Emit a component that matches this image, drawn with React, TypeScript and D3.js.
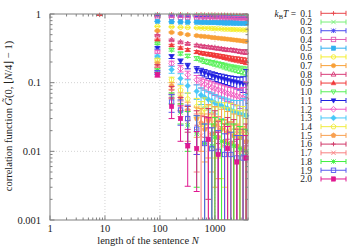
import React from 'react'
import * as d3 from 'd3'

// sentence lengths N (x) shared by all temperature series
const sentenceN = [8, 90, 163, 237, 320, 466, 560, 650, 760, 880, 1000, 1150, 1320, 1500, 1700, 1950, 2200, 2500, 2850, 3250, 3700]

const temps = ['0.1', '0.2', '0.3', '0.4', '0.5', '0.6', '0.7', '0.8', '0.9', '1.0', '1.1', '1.2', '1.3', '1.4', '1.5', '1.6', '1.7', '1.8', '1.9', '2.0']

// null = no point (estimate not positive, so absent on the log axis)
const g01 = [0.97, 0.99, 0.99, 0.99, 0.985, 0.985, 0.985, 0.98, 0.98, 0.98, 0.98, 0.975, 0.975, 0.975, 0.97, 0.97, 0.97, 0.965, 0.965, 0.96, 0.96]
const e01 = [0.02, 0.002, 0.002, 0.002, 0.002, 0.002, 0.002, 0.002, 0.002, 0.002, 0.002, 0.002, 0.003, 0.003, 0.003, 0.003, 0.003, 0.003, 0.004, 0.004, 0.005]
const g02 = [null, 0.975, 0.97, 0.97, 0.965, 0.96, 0.96, 0.955, 0.955, 0.95, 0.95, 0.945, 0.945, 0.94, 0.94, 0.935, 0.935, 0.93, 0.93, 0.925, 0.925]
const e02 = [null, 0.003, 0.003, 0.003, 0.003, 0.003, 0.003, 0.003, 0.003, 0.003, 0.003, 0.004, 0.004, 0.004, 0.004, 0.004, 0.004, 0.005, 0.005, 0.006, 0.007]
const g03 = [null, 0.95, 0.94, 0.935, 0.93, 0.925, 0.92, 0.915, 0.915, 0.91, 0.905, 0.905, 0.9, 0.9, 0.895, 0.895, 0.89, 0.89, 0.885, 0.885, 0.88]
const e03 = [null, 0.004, 0.004, 0.004, 0.004, 0.004, 0.004, 0.004, 0.005, 0.005, 0.005, 0.005, 0.005, 0.005, 0.005, 0.006, 0.006, 0.006, 0.007, 0.008, 0.009]
const g04 = [null, 0.91, 0.9, 0.895, 0.89, 0.885, 0.88, 0.88, 0.875, 0.875, 0.87, 0.87, 0.865, 0.865, 0.86, 0.86, 0.855, 0.855, 0.85, 0.85, 0.845]
const e04 = [null, 0.005, 0.005, 0.005, 0.006, 0.006, 0.006, 0.006, 0.006, 0.006, 0.007, 0.007, 0.007, 0.007, 0.007, 0.008, 0.008, 0.008, 0.009, 0.01, 0.012]
const g05 = [null, 0.78, 0.77, 0.765, 0.76, 0.76, 0.755, 0.755, 0.75, 0.75, 0.75, 0.745, 0.745, 0.74, 0.74, 0.74, 0.735, 0.735, 0.73, 0.73, 0.73]
const e05 = [null, 0.006, 0.007, 0.007, 0.007, 0.008, 0.008, 0.008, 0.008, 0.008, 0.008, 0.009, 0.009, 0.009, 0.009, 0.01, 0.01, 0.01, 0.011, 0.012, 0.014]
const g06 = [null, 0.66, 0.65, 0.64, 0.635, 0.63, 0.625, 0.62, 0.62, 0.615, 0.61, 0.61, 0.605, 0.6, 0.6, 0.595, 0.595, 0.59, 0.59, 0.585, 0.585]
const e06 = [null, 0.008, 0.009, 0.009, 0.009, 0.01, 0.01, 0.01, 0.01, 0.01, 0.011, 0.011, 0.011, 0.011, 0.012, 0.012, 0.012, 0.013, 0.013, 0.015, 0.018]
const g07 = [null, 0.57, 0.54, 0.52, 0.5, 0.485, 0.475, 0.47, 0.465, 0.455, 0.45, 0.445, 0.44, 0.435, 0.43, 0.425, 0.42, 0.415, 0.41, 0.405, 0.4]
const e07 = [null, 0.009, 0.01, 0.011, 0.011, 0.011, 0.012, 0.012, 0.012, 0.012, 0.012, 0.013, 0.013, 0.013, 0.013, 0.014, 0.014, 0.015, 0.015, 0.017, 0.02]
const g08 = [null, 0.49, 0.42, 0.39, 0.37, 0.35, 0.34, 0.335, 0.33, 0.325, 0.32, 0.315, 0.31, 0.305, 0.3, 0.3, 0.295, 0.29, 0.285, 0.28, 0.28]
const e08 = [null, 0.01, 0.011, 0.012, 0.012, 0.012, 0.013, 0.013, 0.013, 0.013, 0.013, 0.014, 0.014, 0.014, 0.014, 0.015, 0.015, 0.016, 0.017, 0.018, 0.022]
const g09 = [null, 0.42, 0.35, 0.32, 0.3, 0.28, 0.27, 0.265, 0.26, 0.255, 0.25, 0.245, 0.24, 0.235, 0.23, 0.225, 0.22, 0.218, 0.214, 0.21, 0.205]
const e09 = [null, 0.01, 0.012, 0.012, 0.013, 0.013, 0.014, 0.014, 0.015, 0.015, 0.015, 0.016, 0.016, 0.017, 0.017, 0.018, 0.018, 0.019, 0.02, 0.02, 0.022]
const g10 = [null, 0.37, 0.3, 0.265, 0.245, 0.225, 0.215, 0.205, 0.2, 0.195, 0.19, 0.185, 0.18, 0.175, 0.17, 0.165, 0.162, 0.158, 0.155, 0.15, 0.147]
const e10 = [null, 0.01, 0.012, 0.013, 0.013, 0.014, 0.014, 0.015, 0.015, 0.015, 0.016, 0.016, 0.016, 0.017, 0.017, 0.017, 0.018, 0.018, 0.019, 0.02, 0.022]
const g11 = [null, 0.32, 0.24, 0.205, 0.175, 0.155, 0.145, 0.138, 0.132, 0.127, 0.122, 0.118, 0.115, 0.112, 0.109, 0.106, 0.104, 0.101, 0.099, 0.097, 0.095]
const e11 = [null, 0.012, 0.015, 0.016, 0.016, 0.016, 0.017, 0.017, 0.017, 0.017, 0.018, 0.018, 0.018, 0.018, 0.018, 0.019, 0.019, 0.02, 0.021, 0.025, 0.06]
const g12 = [null, 0.28, 0.19, 0.16, 0.13, 0.11, 0.1, 0.095, 0.09, 0.086, 0.082, 0.079, 0.076, 0.073, 0.07, 0.068, 0.066, 0.064, 0.062, 0.06, 0.058]
const e12 = [null, 0.012, 0.016, 0.017, 0.017, 0.017, 0.017, 0.017, 0.017, 0.017, 0.017, 0.017, 0.017, 0.017, 0.017, 0.017, 0.018, 0.018, 0.02, 0.025, 0.045]
const g13 = [null, 0.24, 0.155, 0.115, 0.09, 0.075, 0.066, 0.061, 0.057, 0.054, 0.051, 0.048, 0.046, 0.044, 0.042, 0.04, 0.038, 0.037, 0.035, 0.034, 0.033]
const e13 = [null, 0.012, 0.018, 0.02, 0.02, 0.018, 0.018, 0.017, 0.017, 0.017, 0.016, 0.016, 0.016, 0.016, 0.016, 0.016, 0.017, 0.018, 0.02, 0.025, 0.034]
const g14 = [null, 0.215, 0.11, 0.078, 0.058, 0.045, 0.038, 0.042, 0.03, 0.034, 0.026, 0.03, 0.024, 0.027, 0.022, 0.025, 0.02, 0.023, 0.019, 0.021, 0.018]
const e14 = [null, 0.008, 0.01, 0.012, 0.013, 0.014, 0.015, 0.018, 0.016, 0.02, 0.018, 0.022, 0.02, 0.024, 0.021, 0.025, 0.02, 0.024, 0.02, 0.024, 0.022]
const g15 = [null, 0.19, 0.09, 0.06, 0.04, 0.03, 0.026, 0.021, 0.028, 0.018, 0.024, 0.016, 0.021, 0.014, 0.019, 0.013, 0.017, 0.012, 0.016, 0.011, 0.014]
const e15 = [null, 0.008, 0.01, 0.011, 0.012, 0.014, 0.016, 0.014, 0.02, 0.013, 0.021, 0.012, 0.02, 0.015, 0.019, 0.014, 0.018, 0.013, 0.017, 0.012, 0.016]
const g16 = [null, 0.175, 0.078, 0.05, 0.032, 0.024, null, 0.016, 0.022, null, 0.019, 0.013, null, 0.012, 0.015, null, 0.014, 0.01, null, 0.01, 0.012]
const e16 = [null, 0.008, 0.01, 0.011, 0.013, 0.015, null, 0.016, 0.02, null, 0.02, 0.014, null, 0.013, 0.016, null, 0.015, 0.011, null, 0.011, 0.013]
const g17 = [null, 0.16, 0.068, 0.043, 0.027, 0.02, 0.017, null, 0.015, 0.018, null, 0.016, 0.012, null, 0.011, 0.013, null, 0.012, 0.009, null, 0.009]
const e17 = [null, 0.008, 0.01, 0.011, 0.013, 0.015, 0.016, null, 0.015, 0.017, null, 0.016, 0.011, null, 0.012, 0.013, null, 0.012, 0.01, null, 0.01]
const g18 = [null, 0.15, 0.06, 0.037, 0.024, 0.018, null, 0.013, null, 0.012, 0.016, null, 0.014, null, 0.013, null, 0.012, null, 0.011, null, 0.01]
const e18 = [null, 0.009, 0.011, 0.012, 0.014, 0.015, null, 0.012, null, 0.013, 0.015, null, 0.015, null, 0.012, null, 0.013, null, 0.012, null, 0.011]
const g19 = [null, 0.14, 0.052, 0.04, 0.03, 0.021, null, 0.013, null, 0.011, null, 0.01, null, 0.009, null, 0.009, null, 0.008, null, 0.008, null]
const e19 = [null, 0.009, 0.015, 0.016, 0.017, 0.012, null, 0.012, null, 0.011, null, 0.01, null, 0.009, null, 0.01, null, 0.009, null, 0.009, null]
const g20 = [null, 0.13, 0.045, 0.03, 0.012, 0.011, null, null, 0.015, null, null, 0.009, null, null, 0.011, null, null, 0.007, null, null, 0.008]
const e20 = [null, 0.009, 0.015, 0.016, 0.0089, 0.0084, null, null, 0.016, null, null, 0.01, null, null, 0.012, null, null, 0.008, null, null, 0.009]

const colors = ['#e8464b', '#78f078', '#4848f0', '#e05ab0', '#30b0f0', '#f4ee30', '#f8a038', '#d83c78', '#f03838', '#58f058',
  '#2020e0', '#f058c0', '#48c8f8', '#f0ec40', '#f8a050', '#d03868', '#f88080', '#40f040', '#5858f0', '#e01890']
// gnuplot point types, cycling after 15
const pointTypes = [1, 2, 3, 4, 5, 6, 7, 8, 9, 10, 11, 12, 13, 14, 15, 1, 2, 3, 4, 5]

const xTickLabels = ['1', '10', '100', '1000']
const yTickLabels = ['0.001', '0.01', '0.1', '1']

const gs = [g01, g02, g03, g04, g05, g06, g07, g08, g09, g10, g11, g12, g13, g14, g15, g16, g17, g18, g19, g20]
const es = [e01, e02, e03, e04, e05, e06, e07, e08, e09, e10, e11, e12, e13, e14, e15, e16, e17, e18, e19, e20]

const left = 50, right = 248, top = 14, bottom = 220
const font = '"Liberation Serif", serif'

const Marker = ({pt, x, y, color}) => {
  const r = 2.2
  const open = {fill: 'none', stroke: color, strokeWidth: 0.9}
  const full = {fill: color, stroke: color, strokeWidth: 0.5}
  const poly = (pts) => 'M' + pts.map(p => `${x + p[0]},${y + p[1]}`).join('L') + 'Z'
  const tri = [[0, -r * 1.2], [r * 1.1, r * 0.8], [-r * 1.1, r * 0.8]]
  const itri = tri.map(p => [p[0], -p[1]])
  const dia = [[0, -r * 1.3], [r * 1.3, 0], [0, r * 1.3], [-r * 1.3, 0]]
  const pent = d3.range(5).map(k => {
    const a = -Math.PI / 2 + k * 2 * Math.PI / 5
    return [Math.cos(a) * r * 1.2, Math.sin(a) * r * 1.2]
  })
  const plus = `M${x - r},${y}H${x + r}M${x},${y - r}V${y + r}`
  const cross = `M${x - r},${y - r}L${x + r},${y + r}M${x - r},${y + r}L${x + r},${y - r}`
  switch (pt) {
    case 1: return <path d={plus} {...open} />
    case 2: return <path d={cross} {...open} />
    case 3: return <path d={plus + cross} {...open} />
    case 4: return <rect x={x - r} y={y - r} width={2 * r} height={2 * r} {...open} />
    case 5: return <rect x={x - r} y={y - r} width={2 * r} height={2 * r} {...full} />
    case 6: return <circle cx={x} cy={y} r={r} {...open} />
    case 7: return <circle cx={x} cy={y} r={r} {...full} />
    case 8: return <path d={poly(tri)} {...open} />
    case 9: return <path d={poly(tri)} {...full} />
    case 10: return <path d={poly(itri)} {...open} />
    case 11: return <path d={poly(itri)} {...full} />
    case 12: return <path d={poly(dia)} {...open} />
    case 13: return <path d={poly(dia)} {...full} />
    case 14: return <path d={poly(pent)} {...open} />
    default: return <path d={poly(pent)} {...full} />
  }
}

export default function App() {
  const xScale = d3.scaleLog().domain([1, 4000]).range([left, right])
  const yScale = d3.scaleLog().domain([0.001, 1]).range([bottom, top])

  const xTicks = xScale.ticks()
  const yTicks = yScale.ticks()
  const isMajor = v => Math.abs(Math.log10(v) - Math.round(Math.log10(v))) < 1e-9
  const cap = 3

  const legendY = i => 13.3 + i * 8.72

  return (
    <svg width={360} height={250} style={{position: 'absolute', left: 0, top: 0, background: '#fff'}}
      fontFamily={font}>
      <defs>
        <clipPath id="plot">
          <rect x={left} y={top} width={right - left} height={bottom - top} />
        </clipPath>
      </defs>

      {/* grid */}
      <g stroke="#c8c8c8" strokeWidth={0.8} strokeDasharray="1 2">
        {xTicks.filter(isMajor).filter(v => v > 1).map((v, i) =>
          <line key={'gx' + i} x1={xScale(v)} x2={xScale(v)} y1={top} y2={bottom} />)}
        {yTicks.filter(isMajor).filter(v => v > 0.001 && v < 1).map((v, i) =>
          <line key={'gy' + i} x1={left} x2={right} y1={yScale(v)} y2={yScale(v)} />)}
      </g>

      {/* data */}
      {gs.map((g, si) => {
        const color = colors[si]
        return (
          <g key={si}>
            <g clipPath="url(#plot)" stroke={color} strokeWidth={1}>
              {g.map((v, j) => {
                if (v == null) return null
                const e = es[si][j]
                const x = xScale(sentenceN[j])
                const yHi = yScale(v + e)
                const yLo = v - e > 0 ? yScale(v - e) : bottom + 10
                return (
                  <g key={j}>
                    <line x1={x} x2={x} y1={yHi} y2={yLo} />
                    <line x1={x - cap} x2={x + cap} y1={yHi} y2={yHi} />
                    <line x1={x - cap} x2={x + cap} y1={yLo} y2={yLo} />
                  </g>
                )
              })}
            </g>
            {g.map((v, j) => v == null ? null :
              <Marker key={j} pt={pointTypes[si]} x={xScale(sentenceN[j])} y={yScale(v)} color={color} />)}
          </g>
        )
      })}

      {/* frame and ticks */}
      <g stroke="#808080" strokeWidth={1} fill="none">
        <rect x={left} y={top} width={right - left} height={bottom - top} />
        {xTicks.map((v, i) => {
          const len = isMajor(v) ? 4.5 : 2.5
          const x = xScale(v)
          return (
            <g key={'tx' + i}>
              <line x1={x} x2={x} y1={bottom} y2={bottom - len} />
              <line x1={x} x2={x} y1={top} y2={top + len} />
            </g>
          )
        })}
        {yTicks.map((v, i) => {
          const len = isMajor(v) ? 4.5 : 2.5
          const y = yScale(v)
          return (
            <g key={'ty' + i}>
              <line x1={left} x2={left + len} y1={y} y2={y} />
              <line x1={right} x2={right - len} y1={y} y2={y} />
            </g>
          )
        })}
      </g>

      {/* tick labels */}
      <g fontSize={10.5} fill="#222">
        {xTickLabels.map((t, i) =>
          <text key={'lx' + i} x={xScale(+t)} y={232} textAnchor="middle">{t}</text>)}
        {yTickLabels.map((t, i) =>
          <text key={'ly' + i} x={41} y={yScale(+t) + 3.5} textAnchor="end">{t}</text>)}
      </g>

      {/* axis titles */}
      <text x={148} y={244} fontSize={10.5} textAnchor="middle" fill="#222">
        length of the sentence <tspan fontStyle="italic">N</tspan>
      </text>
      <text transform="translate(12,116) rotate(-90)" fontSize={10.5} textAnchor="middle" fill="#222">
        correlation function <tspan fontStyle="italic">{'G\u0303'}</tspan>(0, ⌊<tspan fontStyle="italic">N</tspan>/4⌋ − 1)
      </text>

      {/* legend */}
      <text x={296} y={legendY(0) + 3.3} fontSize={9.5} textAnchor="end" fill="#222">
        <tspan fontStyle="italic">k</tspan><tspan fontSize={6.5} dy={2}>B</tspan><tspan fontStyle="italic" dy={-2}>T</tspan> =
      </text>
      {temps.map((t, i) => {
        const y = legendY(i)
        const color = colors[i]
        return (
          <g key={'leg' + i}>
            <text x={312} y={y + 3.3} fontSize={9.5} textAnchor="end" fill="#222">{t}</text>
            <g stroke={color} strokeWidth={1}>
              <line x1={321} x2={346} y1={y} y2={y} />
              <line x1={321} x2={321} y1={y - 2.5} y2={y + 2.5} />
              <line x1={346} x2={346} y1={y - 2.5} y2={y + 2.5} />
            </g>
            <Marker pt={pointTypes[i]} x={333.5} y={y} color={color} />
          </g>
        )
      })}
    </svg>
  )
}
